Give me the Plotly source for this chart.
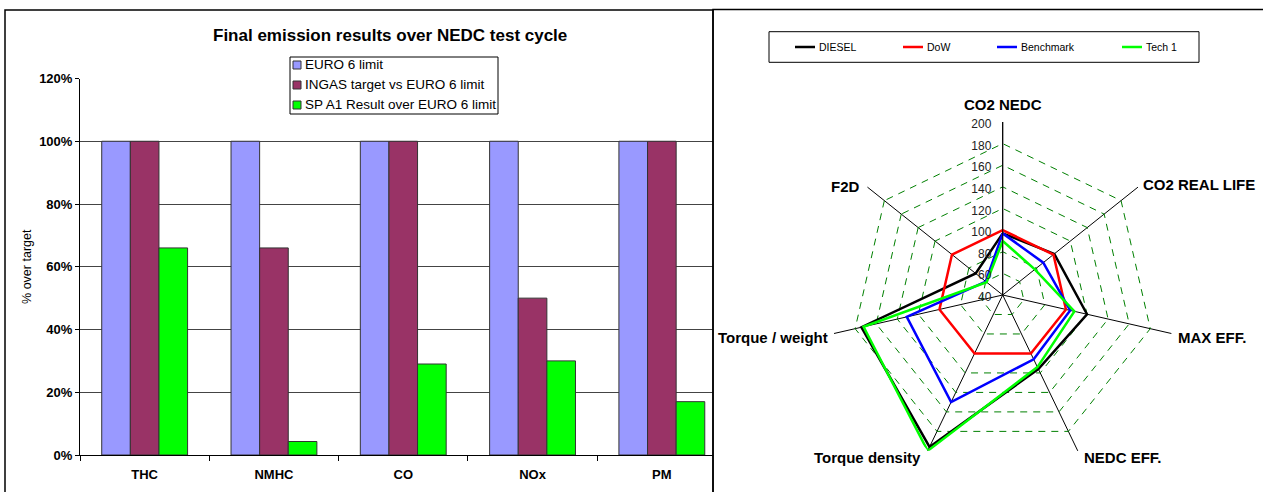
import plotly.graph_objects as go

W, H = 1263, 492

# ---------------- data: left bar chart ----------------
categories = ["THC", "NMHC", "CO", "NOx", "PM"]
euro6_limit = [1.00, 1.00, 1.00, 1.00, 1.00]
ingas_target = [1.00, 0.66, 1.00, 0.50, 1.00]
sp_a1_result = [0.66, 0.043, 0.29, 0.30, 0.17]
bar_names = ["EURO 6 limit", "INGAS target vs EURO 6 limit", "SP A1 Result over EURO 6 limit"]
bar_colors = ["#9999FF", "#993366", "#00FF00"]
y_tick_vals = [0, 0.2, 0.4, 0.6, 0.8, 1.0, 1.2]

# ---------------- data: right radar chart ----------------
radar_axes = ["CO2 NEDC", "CO2 REAL LIFE", "MAX EFF.", "NEDC EFF.",
              "Torque density", "Torque / weight", "F2D"]
diesel = [97, 101, 120, 116, 196, 174, 72]
dow = [100, 100, 100, 100, 100, 100, 100]
benchmark = [97, 88, 104, 106, 150, 131, 60]
tech1 = [90, 78, 108, 114, 200, 172, 59]
radar_names = ["DIESEL", "DoW", "Benchmark", "Tech 1"]
radar_colors = ["#000000", "#FF0000", "#0000FF", "#00FF00"]
radar_tick_vals = [40, 60, 80, 100, 120, 140, 160, 180, 200]


def fx(px):
    return px / W


def fy(py):
    return 1 - py / H


FONT = "Liberation Sans, Arial, sans-serif"

fig = go.Figure()

# bars
for name, vals, col in zip(bar_names, [euro6_limit, ingas_target, sp_a1_result], bar_colors):
    fig.add_trace(go.Bar(
        x=categories, y=vals, name=name, marker=dict(color=col, line=dict(color="#333333", width=1)),
        showlegend=False, xaxis="x", yaxis="y",
    ))

# radar
for name, vals, col in zip(radar_names, [diesel, dow, benchmark, tech1], radar_colors):
    fig.add_trace(go.Scatterpolar(
        r=vals + vals[:1], theta=radar_axes + radar_axes[:1], name=name, mode="lines",
        line=dict(color=col, width=2.5), showlegend=False, subplot="polar",
    ))

# category geometry of the left chart
x0_px, x_clip_px, cat_w = 80, 713, 129.3
# radar geometry (pixels)
rcx, rcy, rr = 1002.7, 295, 173

fig.update_layout(
    width=W, height=H, autosize=False,
    margin=dict(l=0, r=0, t=0, b=0, autoexpand=False),
    paper_bgcolor="white", plot_bgcolor="white",
    font=dict(family=FONT, color="#000000"),
    barmode="group", bargap=0.336, bargroupgap=0,
    xaxis=dict(
        domain=[fx(x0_px), fx(x_clip_px)],
        range=[-0.5, -0.5 + (x_clip_px - x0_px) / cat_w],
        type="category", tickson="boundaries", ticks="outside", ticklen=5,
        ticklabelstandoff=7,
        tickcolor="#000000", showgrid=False, showline=True, linecolor="#000000", linewidth=1,
        tickfont=dict(size=13, family=FONT, weight="bold"), fixedrange=True, automargin=False,
    ),
    yaxis=dict(
        domain=[fy(455), fy(78.5)], range=[0, 1.2], tickvals=y_tick_vals, tickformat=".0%",
        ticks="outside", ticklen=4, tickcolor="#000000", showgrid=True, gridcolor="#444444",
        gridwidth=1, showline=True, linecolor="#000000", linewidth=1, zeroline=False,
        tickfont=dict(size=13, family=FONT, weight="bold"),
        title=dict(text="% over target", font=dict(size=12.5, family=FONT), standoff=4),
        fixedrange=True, automargin=False,
    ),
    polar=dict(
        domain=dict(x=[fx(rcx - rr), fx(rcx + rr)], y=[fy(rcy + rr), fy(rcy - rr)]),
        gridshape="linear", bgcolor="rgba(0,0,0,0)",
        radialaxis=dict(
            range=[40, 200], tickvals=radar_tick_vals, angle=90, side="counterclockwise",
            showline=True, linecolor="#000000", linewidth=1, ticks="",
            gridcolor="#008000", griddash="7px,6px", gridwidth=1,
            tickfont=dict(size=12, family=FONT, color="#222222"),
        ),
        angularaxis=dict(
            rotation=90, direction="clockwise", showline=False, ticks="", showticklabels=False,
            gridcolor="#000000", gridwidth=1,
        ),
    ),
)

# title of left chart
fig.add_annotation(x=fx(390), y=fy(35), xref="paper", yref="paper", showarrow=False,
                   text="<b>Final emission results over NEDC test cycle</b>",
                   font=dict(size=17, family=FONT), xanchor="center", yanchor="middle")

# radar axis labels (placed just outside each polygon vertex)
lab_pos = [(1003, 104, "center"), (1141, 184, "left"), (1176, 337, "left"), (1082, 457, "left"),
           (923, 457, "right"), (830, 337, "right"), (862, 186, "right")]
for name, (lx, ly, anc) in zip(radar_axes, lab_pos):
    fig.add_annotation(x=fx(lx), y=fy(ly), xref="paper", yref="paper", showarrow=False,
                       text="<b>%s</b>" % name, font=dict(size=15, family=FONT),
                       xanchor=anc, yanchor="middle")

shapes = []
# panel borders
shapes.append(dict(type="rect", xref="paper", yref="paper", x0=fx(5), x1=fx(713), y0=fy(500), y1=fy(10),
                   line=dict(color="#000000", width=1.5), fillcolor="rgba(0,0,0,0)"))
shapes.append(dict(type="rect", xref="paper", yref="paper", x0=fx(713), x1=fx(1275), y0=fy(500), y1=fy(9.5),
                   line=dict(color="#000000", width=1.5), fillcolor="rgba(0,0,0,0)"))

# left legend (box, swatches, labels)
leg_box = (290, 498, 57, 114)
leg_rows = [65, 85, 105]
shapes.append(dict(type="rect", xref="paper", yref="paper", x0=fx(leg_box[0]), x1=fx(leg_box[1]),
                   y0=fy(leg_box[3]), y1=fy(leg_box[2]), line=dict(color="#000000", width=1),
                   fillcolor="white"))
for name, col, ry in zip(bar_names, bar_colors, leg_rows):
    shapes.append(dict(type="rect", xref="paper", yref="paper", x0=fx(293), x1=fx(301),
                       y0=fy(ry + 4), y1=fy(ry - 4), line=dict(color="#333333", width=1), fillcolor=col))
    fig.add_annotation(x=fx(303), y=fy(ry), xref="paper", yref="paper", showarrow=False, text=name,
                       font=dict(size=13.5, family=FONT), xanchor="left", yanchor="middle")

# right legend (box, line samples, labels)
rleg_box = (769, 1199, 31.7, 62.3)
rleg_x = [795, 903, 997, 1122]
rleg_y = 47
shapes.append(dict(type="rect", xref="paper", yref="paper", x0=fx(rleg_box[0]), x1=fx(rleg_box[1]),
                   y0=fy(rleg_box[3]), y1=fy(rleg_box[2]), line=dict(color="#000000", width=1),
                   fillcolor="white"))
for name, col, lx in zip(radar_names, radar_colors, rleg_x):
    shapes.append(dict(type="line", xref="paper", yref="paper", x0=fx(lx), x1=fx(lx + 20),
                       y0=fy(rleg_y), y1=fy(rleg_y), line=dict(color=col, width=2.5)))
    fig.add_annotation(x=fx(lx + 22), y=fy(rleg_y), xref="paper", yref="paper", showarrow=False, text=name,
                       font=dict(size=10.5, family=FONT), xanchor="left", yanchor="middle")

fig.update_layout(shapes=shapes)

fig.write_html("out.html", config={"displayModeBar": False},
               post_script="document.documentElement.style.margin='0';document.body.style.margin='0';"
                           "document.body.style.overflow='hidden';")
